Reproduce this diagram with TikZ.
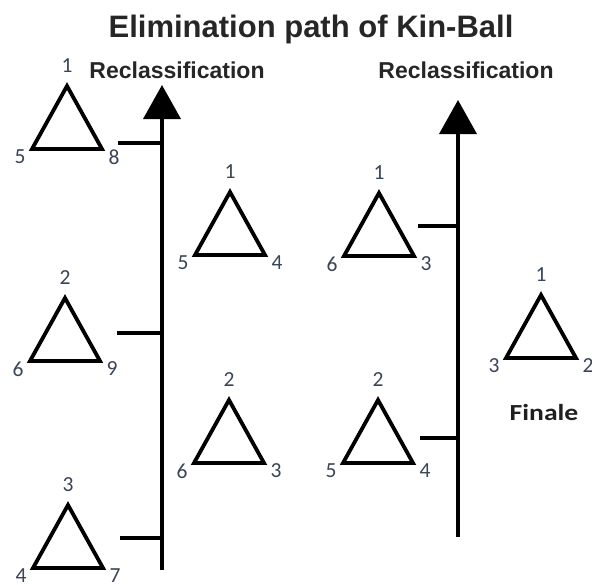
\documentclass[tikz,border=0pt]{standalone}
\usepackage{fontspec}
\setmainfont{Liberation Sans}
\newfontfamily\calibri{Carlito}
\usetikzlibrary{arrows.meta}

\definecolor{numcol}{HTML}{3A4557}
\definecolor{headcol}{HTML}{262626}

\tikzset{
  tri/.style={line width=3.8pt, line join=miter},
  bar/.style={line width=3.8pt},
  arr/.style={line width=3.8pt, -{Triangle[width=37pt,length=34pt]}},
  num/.style={font=\calibri\fontsize{21.5}{23}\selectfont, text=numcol, inner sep=0pt},
  head/.style={font=\fontsize{23}{26}\selectfont\bfseries, text=headcol, anchor=base, inner sep=0pt}
}

% triangle with its three numbers: name, apex x, apex y, top, left, right
\newcommand{\tri}[6]{%
  \coordinate (#1) at (#2,#3);
  \draw[tri] (#1) -- ++(35,63) -- ++(-70,0) -- cycle;
  \node[num] (#1t) at (#2,#3-20) {#4};
  \node[num] (#1l) at (#2-47,#3+71) {#5};
  \node[num] (#1r) at (#2+47,#3+71) {#6};
}

\begin{document}
\begin{tikzpicture}[x=1pt,y=-1pt]
  \useasboundingbox[fill=white] (0,0) rectangle (592,584);

  \node[head, font=\fontsize{31}{36}\selectfont\bfseries] (title) at (311,37) {Elimination path of Kin-Ball};
  \node[head] (reclassL) at (177,78) {Reclassification};
  \node[head] (reclassR) at (466,78) {Reclassification};

  % left column
  \tri{ta}{67}{86}{1}{5}{8}
  \tri{tb}{65}{298}{2}{6}{9}
  \tri{tc}{68}{505}{3}{4}{7}
  % middle column
  \tri{td}{230}{192}{1}{5}{4}
  \tri{te}{229}{400}{2}{6}{3}
  % right column
  \tri{tf}{379}{193}{1}{6}{3}
  \tri{tg}{378}{400}{2}{5}{4}
  % final
  \tri{th}{541}{295}{1}{3}{2}
  \node[font=\calibri\fontsize{23}{26}\selectfont\bfseries, text=black!88, anchor=base] (finale) at (544,420) {\scalebox{1.2}[1]{Finale}};

  % first round
  \coordinate (lbot) at (162,570);
  \coordinate (ltop) at (162,85);
  \draw[arr] (lbot) -- (ltop);
  \coordinate (ka) at (118,143);
  \coordinate (kb) at (117,333);
  \coordinate (kc) at (120,538);
  \foreach \k in {ka,kb,kc}
    \draw[bar] (\k) -- (\k -| lbot);

  % second round
  \coordinate (rbot) at (458,537);
  \coordinate (rtop) at (458,100);
  \draw[arr] (rbot) -- (rtop);
  \coordinate (kd) at (418,226);
  \coordinate (ke) at (420,438);
  \foreach \k in {kd,ke}
    \draw[bar] (\k) -- (\k -| rbot);
\end{tikzpicture}
\end{document}
